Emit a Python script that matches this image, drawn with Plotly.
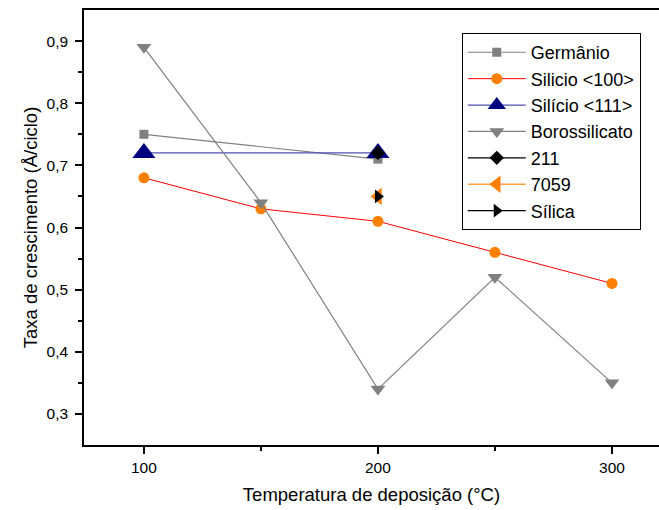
import plotly.graph_objects as go

ge_x = [100, 200]
ge_y = [0.75, 0.71]
si100_x = [100, 150, 200, 250, 300]
si100_y = [0.68, 0.63, 0.61, 0.56, 0.51]
si111_x = [100, 200]
si111_y = [0.72, 0.72]
boro_x = [100, 150, 200, 250, 300]
boro_y = [0.89, 0.64, 0.34, 0.52, 0.35]
s211_x = [200]
s211_y = [0.72]
s7059_x = [200]
s7059_y = [0.65]
silica_x = [200]
silica_y = [0.65]

FONT = "Liberation Sans, Arial, sans-serif"

fig = go.Figure()
fig.add_trace(go.Scatter(x=ge_x, y=ge_y, name="Germânio", mode="lines+markers",
                         line=dict(color="#808080", width=1.2),
                         marker=dict(symbol="square", size=9, color="#808080")))
fig.add_trace(go.Scatter(x=si100_x, y=si100_y, name="Silicio <100>", mode="lines+markers",
                         line=dict(color="#FF0000", width=1),
                         marker=dict(symbol="circle", size=11, color="#FF8000")))
fig.add_trace(go.Scatter(x=si111_x, y=si111_y, name="Silício <111>", mode="lines+markers",
                         line=dict(color="#5050B0", width=1.2),
                         marker=dict(symbol="triangle-up", size=20, color="#000080")))
fig.add_trace(go.Scatter(x=boro_x, y=boro_y, name="Borossilicato", mode="lines+markers",
                         line=dict(color="#808080", width=1.2),
                         marker=dict(symbol="triangle-down", size=13, color="#808080")))
fig.add_trace(go.Scatter(x=s211_x, y=s211_y, name="211", mode="lines+markers",
                         line=dict(color="#000000", width=1.2),
                         marker=dict(symbol="diamond", size=11, color="#000000")))
fig.add_trace(go.Scatter(x=s7059_x, y=s7059_y, name="7059", mode="lines+markers",
                         line=dict(color="#FFA040", width=1.5),
                         marker=dict(symbol="triangle-left", size=15, color="#FF8000")))
fig.add_trace(go.Scatter(x=silica_x, y=silica_y, name="Sílica", mode="lines+markers",
                         line=dict(color="#000000", width=1.2),
                         marker=dict(symbol="triangle-right", size=12, color="#000000")))

axis_common = dict(showline=True, linecolor="#000000", linewidth=1.5,
                   ticks="outside", ticklen=7, tickwidth=1.5, tickcolor="#000000",
                   showgrid=False, zeroline=False, automargin=False,
                   tickfont=dict(family=FONT, size=15.5, color="#000000"))

fig.update_xaxes(range=[74.4, 320.1], tickvals=[100, 200, 300], mirror=True,
                 ticklabelstandoff=1,
                 minor=dict(tickvals=[150, 250], ticks="outside", ticklen=4,
                            tickwidth=1.5, tickcolor="#000000", showgrid=False),
                 title=dict(text="Temperatura de deposição (°C)", standoff=13,
                            font=dict(family=FONT, size=18.5, color="#000000")),
                 **axis_common)
fig.update_yaxes(range=[0.25, 0.95], tickvals=[0.3, 0.4, 0.5, 0.6, 0.7, 0.8, 0.9],
                 ticktext=["0,3", "0,4", "0,5", "0,6", "0,7", "0,8", "0,9"], mirror=False,
                 ticklabelstandoff=4,
                 minor=dict(tickvals=[0.35, 0.45, 0.55, 0.65, 0.75, 0.85], ticks="outside",
                            ticklen=4, tickwidth=1.5, tickcolor="#000000", showgrid=False),
                 title=dict(text="Taxa de crescimento (Å/ciclo)", standoff=4,
                            font=dict(family=FONT, size=18.5, color="#000000")),
                 **axis_common)

fig.update_layout(
    width=659, height=510,
    margin=dict(l=84, r=0, t=10, b=65, autoexpand=False),
    plot_bgcolor="#FFFFFF", paper_bgcolor="#FFFFFF",
    font=dict(family=FONT, color="#000000"),
    legend=dict(x=0.657, y=0.947, xanchor="left", yanchor="top",
                bordercolor="#000000", borderwidth=1, bgcolor="#FFFFFF",
                font=dict(family=FONT, size=18, color="#000000"),
                tracegroupgap=0, itemsizing="trace", itemwidth=58),
)

fig.write_html("out.html", config={"displayModeBar": False},
               post_script=("document.body.style.margin='0';"
                            "document.body.style.overflow='hidden';"
                            "document.documentElement.style.overflow='hidden';"))
